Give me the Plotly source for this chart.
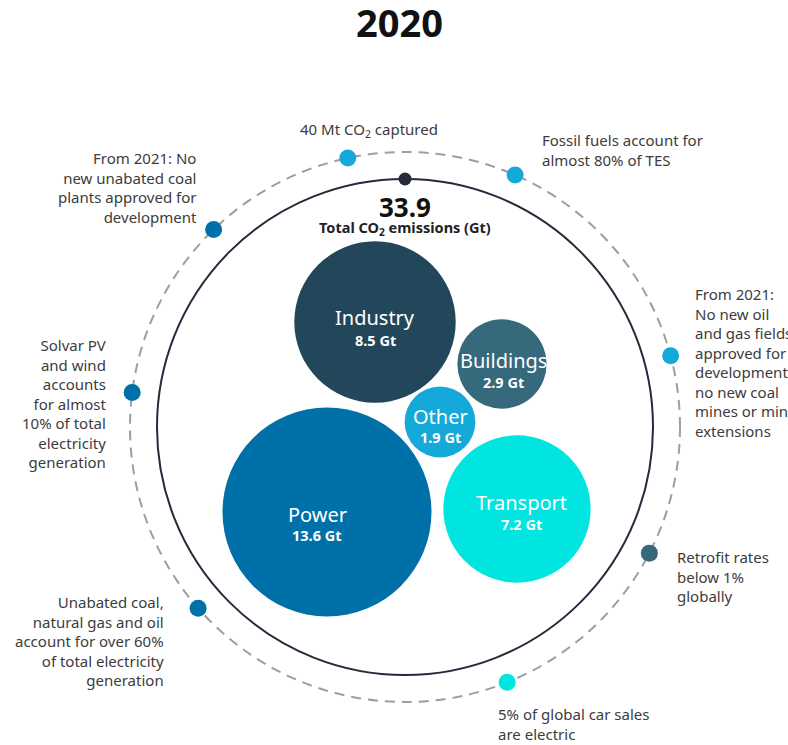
import numpy as np
import plotly.graph_objects as go

###### Data #######
year = "2020"
total_co2_gt = 33.9

sectors = ["Power", "Industry", "Transport", "Buildings", "Other"]
emissions_gt = [13.6, 8.5, 7.2, 2.9, 1.9]

facts = [
    "40 Mt CO<sub>2</sub> captured",
    "Fossil fuels account for<br>almost 80% of TES",
    "From 2021: No<br>new unabated coal<br>plants approved for<br>development",
    "Solvar PV<br>and wind<br>accounts<br>for almost<br>10% of total<br>electricity<br>generation",
    "Unabated coal,<br>natural gas and oil<br>account for over 60%<br>of total electricity<br>generation",
    "5% of global car sales<br>are electric",
    "Retrofit rates<br>below 1%<br>globally",
    "From 2021:<br>No new oil<br>and gas fields<br>approved for<br>development,<br>no new coal<br>mines or mine<br>extensions",
]
# sector whose colour each fact dot takes
fact_sector = ["Other", "Other", "Power", "Power", "Power", "Transport", "Buildings", "Other"]

###### Layout / style #######
W, H = 788, 745
CX, CY = 405, 427          # centre of the two rings
R_INNER, R_OUTER = 248, 275

sector_colors = {
    "Power": "#0070a9",
    "Industry": "#22465a",
    "Transport": "#00e5e0",
    "Buildings": "#36697b",
    "Other": "#15a9d9",
}
# bubble centres (px) and label centres (name / value)
bubble_pos = {
    "Power": (327, 512),
    "Industry": (375, 322),
    "Transport": (517, 509),
    "Buildings": (502, 364),
    "Other": (440, 422),
}
label_pos = {
    "Power": (317, 514, 535),
    "Industry": (375, 317, 340),
    "Transport": (521, 502, 524),
    "Buildings": (503, 360, 382),
    "Other": (440, 416, 437),
}
# bubble radius scale  r = k * value ** p
R_K, R_P = 24.87, 0.55

# fact dots: angle on the dashed ring, clockwise from the top (deg)
fact_angle = [-12.0, 23.6, -44.1, -82.8, -131.2, 158.2, 117.3, 75.0]
# text anchor: (x, y, side)
fact_text = [
    (298, 130, "left"),
    (540, 150, "left"),
    (199, 187, "right"),
    (108, 403, "right"),
    (166, 641, "right"),
    (496, 724, "left"),
    (675, 576, "left"),
    (693, 362, "left"),
]

FONT = "Noto Sans, Open Sans, sans-serif"
TEXT_COLOR = "#3c3c3c"

fig = go.Figure()

shapes = []
# dashed outer ring
shapes.append(dict(type="circle", xref="x", yref="y",
                   x0=CX - R_OUTER, x1=CX + R_OUTER, y0=CY - R_OUTER, y1=CY + R_OUTER,
                   line=dict(color="#9e9e9e", width=2, dash="10px,7px"), layer="below"))
# solid inner ring
shapes.append(dict(type="circle", xref="x", yref="y",
                   x0=CX - R_INNER, x1=CX + R_INNER, y0=CY - R_INNER, y1=CY + R_INNER,
                   line=dict(color="#262a3b", width=2), layer="below"))

annotations = []
for name, val in zip(sectors, emissions_gt):
    bx, by = bubble_pos[name]
    r = R_K * val ** R_P
    shapes.append(dict(type="circle", xref="x", yref="y",
                       x0=bx - r, x1=bx + r, y0=by - r, y1=by + r,
                       fillcolor=sector_colors[name], line=dict(width=0), layer="below"))
    lx, ny, vy = label_pos[name]
    annotations.append(dict(x=lx, y=ny, text=name, showarrow=False,
                            font=dict(family=FONT, size=20, color="white")))
    annotations.append(dict(x=lx, y=vy, text=f"<b>{val} Gt</b>", showarrow=False,
                            font=dict(family=FONT, size=14.5, color="white")))

# fact dots on the dashed ring
ang = np.radians(fact_angle)
dot_x = CX + R_OUTER * np.sin(ang)
dot_y = CY - R_OUTER * np.cos(ang)
fig.add_trace(go.Scatter(
    x=dot_x, y=dot_y, mode="markers", hoverinfo="skip",
    marker=dict(size=17, color=[sector_colors[s] for s in fact_sector], line=dict(width=0)),
))
# dot on top of the inner ring
fig.add_trace(go.Scatter(
    x=[CX], y=[CY - R_INNER], mode="markers", hoverinfo="skip",
    marker=dict(size=13, color="#262a3b"),
))

for txt, (tx, ty, side) in zip(facts, fact_text):
    annotations.append(dict(x=tx, y=ty, text=txt, showarrow=False,
                            xanchor=side, yanchor="middle", align=side,
                            font=dict(family=FONT, size=15, color=TEXT_COLOR)))

# title and total
annotations.append(dict(x=399, y=22, text=f"<b>{year}</b>", showarrow=False,
                        font=dict(family=FONT, size=38, color="#111111")))
annotations.append(dict(x=405, y=207, text=f"<b>{total_co2_gt}</b>", showarrow=False,
                        font=dict(family=FONT, size=26, color="#111111")))
annotations.append(dict(x=405, y=228, text="<b>Total CO<sub>2</sub> emissions (Gt)</b>",
                        showarrow=False, font=dict(family=FONT, size=14.5, color="#222222")))

fig.update_layout(
    width=W, height=H,
    margin=dict(l=0, r=0, t=0, b=0),
    paper_bgcolor="white", plot_bgcolor="white",
    showlegend=False,
    hovermode=False,
    shapes=shapes,
    annotations=annotations,
    xaxis=dict(range=[0, W], visible=False, fixedrange=True),
    yaxis=dict(range=[H, 0], visible=False, fixedrange=True),
)

# drop the default page margin so the figure fills the window
fig.write_html("out.html", config={"displayModeBar": False},
               post_script="document.body.style.margin='0';")
